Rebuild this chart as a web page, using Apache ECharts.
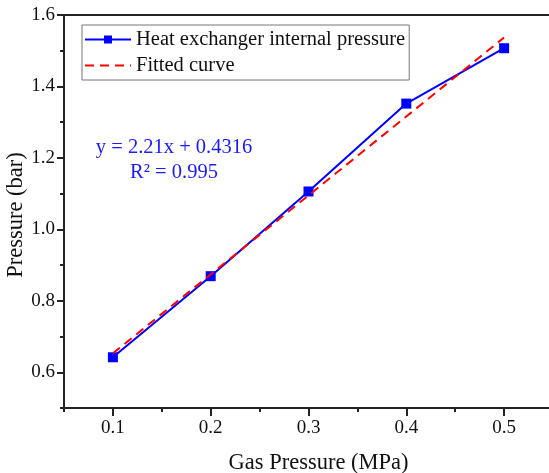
<!DOCTYPE html>
<html>
<head>
<meta charset="utf-8">
<script src="https://cdn.jsdelivr.net/npm/echarts@6/dist/echarts.min.js"></script>
<style>
  html, body { margin: 0; padding: 0; background: #fff; }
  #chart { width: 549px; height: 473px; }
</style>
</head>
<body>
<div id="chart"></div>
<script>
// measured points
const gasPressure = [0.1, 0.2, 0.3, 0.4, 0.5];
const innerPressure = [0.642, 0.869, 1.106, 1.352, 1.507];
// fitted line end points (y = 2.21x + 0.4316)
const fitX = [0.1, 0.5];
const fitY = [0.653, 1.537];
const eqLines = ["y = 2.21x + 0.4316", "R\u00b2 = 0.995"];
const xTicks = [0.1, 0.2, 0.3, 0.4, 0.5];
const yTicks = [0.6, 0.8, 1.0, 1.2, 1.4, 1.6];

const font = "Liberation Serif";
const chart = echarts.init(document.getElementById("chart"));

chart.setOption({
  animation: false,
  grid: {
    left: 64,
    top: 15,
    right: -4,
    bottom: 65,
    outerBoundsMode: "none",
    show: true,
    borderColor: "#222",
    borderWidth: 2
  },
  legend: {
    orient: "vertical",
    left: 82,
    top: 25,
    padding: [4, 4, 4, 2],
    itemGap: 5,
    itemWidth: 46,
    itemHeight: 10,
    borderColor: "#777",
    borderWidth: 1,
    textStyle: { fontFamily: font, fontSize: 20.5, color: "#111" },
    data: [
      { name: "Heat exchanger internal pressure" },
      { name: "Fitted curve", itemStyle: { opacity: 0 } }
    ]
  },
  xAxis: [
    {
      type: "value",
      min: 0.05,
      max: 0.55,
      interval: 0.05,
      name: "Gas Pressure (MPa)",
      nameLocation: "middle",
      nameGap: 44,
      nameTextStyle: { fontFamily: font, fontSize: 22.5, color: "#111", padding: [0, 0, 0, 20] },
      axisLine: { lineStyle: { color: "#222", width: 2 } },
      axisTick: {
        length: 8,
        lineStyle: { color: "#222", width: 2 },
        customValues: xTicks
      },
      axisLabel: {
        fontFamily: font,
        fontSize: 19,
        color: "#111",
        margin: 11,
        customValues: xTicks,
        formatter: v => v.toFixed(1)
      },
      splitLine: { show: false }
    },
    {
      // minor ticks
      type: "value",
      position: "bottom",
      min: 0.05,
      max: 0.55,
      interval: 0.05,
      axisLine: { show: false },
      axisLabel: { show: false },
      splitLine: { show: false },
      axisTick: {
        length: 4,
        lineStyle: { color: "#222", width: 2 },
        customValues: [0.05, 0.15, 0.25, 0.35, 0.45]
      }
    }
  ],
  yAxis: [
    {
      type: "value",
      min: 0.5,
      max: 1.6,
      interval: 0.1,
      name: "Pressure (bar)",
      nameLocation: "middle",
      nameGap: 36,
      nameMoveOverlap: false,
      nameTextStyle: { fontFamily: font, fontSize: 22.5, color: "#111", padding: [0, 7, 0, 0] },
      axisLine: { show: true, lineStyle: { color: "#222", width: 2 } },
      axisTick: {
        length: 7,
        lineStyle: { color: "#222", width: 2 },
        customValues: yTicks
      },
      axisLabel: {
        fontFamily: font,
        fontSize: 19,
        color: "#111",
        margin: 9,
        customValues: yTicks,
        formatter: v => v.toFixed(1)
      },
      splitLine: { show: false }
    },
    {
      // minor ticks
      type: "value",
      position: "left",
      min: 0.5,
      max: 1.6,
      interval: 0.1,
      axisLine: { show: false },
      axisLabel: { show: false },
      splitLine: { show: false },
      axisTick: {
        show: true,
        length: 4,
        lineStyle: { color: "#222", width: 2 },
        customValues: [0.5, 0.7, 0.9, 1.1, 1.3, 1.5]
      }
    }
  ],
  graphic: [
    {
      type: "text",
      x: 174,
      y: 148,
      style: {
        text: eqLines[0],
        fill: "#1a1aff",
        font: "20.5px " + font,
        align: "center",
        verticalAlign: "middle"
      }
    },
    {
      type: "text",
      x: 174,
      y: 173,
      style: {
        text: eqLines[1],
        fill: "#1a1aff",
        font: "20.5px " + font,
        align: "center",
        verticalAlign: "middle"
      }
    }
  ],
  series: [
    {
      name: "Heat exchanger internal pressure",
      type: "line",
      data: gasPressure.map((x, i) => [x, innerPressure[i]]),
      symbol: "rect",
      symbolSize: 10,
      color: "#0000ff",
      lineStyle: { width: 2, color: "#0000ff" },
      itemStyle: { color: "#0000ff" },
      z: 3
    },
    {
      name: "Fitted curve",
      type: "line",
      data: fitX.map((x, i) => [x, fitY[i]]),
      symbol: "none",
      color: "#ff0000",
      lineStyle: { width: 2, color: "#ff0000", type: [9, 6] },
      z: 4
    }
  ]
});
</script>
</body>
</html>
